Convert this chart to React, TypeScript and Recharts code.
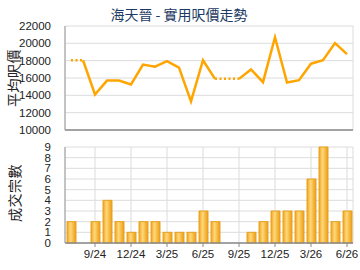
import { Bar, BarChart, CartesianGrid, Line, LineChart, XAxis, YAxis } from "recharts";

const months = [
  "7/24", "8/24", "9/24", "10/24", "11/24", "12/24",
  "1/25", "2/25", "3/25", "4/25", "5/25", "6/25",
  "7/25", "8/25", "9/25", "10/25", "11/25", "12/25",
  "1/26", "2/26", "3/26", "4/26", "5/26", "6/26",
];
// monthly average price per sq ft (months with no deal repeat the last price)
const price = [
  18050, 18050, 14100, 15700, 15700, 15250,
  17550, 17300, 17950, 17200, 13300, 18050,
  15900, 15900, 15900, 16980, 15520, 20700,
  15480, 15750, 17650, 18060, 20030, 18760,
];
const deals = [2, 0, 2, 4, 2, 1, 2, 2, 1, 1, 1, 3, 2, 0, 0, 1, 2, 3, 3, 3, 6, 9, 2, 3];
const xTicks = ["9/24", "12/24", "3/25", "6/25", "9/25", "12/25", "3/26", "6/26"];
const priceTicks = [10000, 12000, 14000, 16000, 18000, 20000, 22000];
const dealTicks = [0, 1, 2, 3, 4, 5, 6, 7, 8, 9];

// a segment is dotted when it runs into a month without deals
const n = months.length;
const rows = months.map((m, i) => {
  const solid = (i > 0 && deals[i] > 0) || (i + 1 < n && deals[i + 1] > 0);
  const dotted = (i > 0 && deals[i] === 0) || (i + 1 < n && deals[i + 1] === 0);
  return {
    month: m,
    solid: solid ? price[i] : null,
    dotted: dotted ? price[i] : null,
    deals: deals[i],
  };
});

const tickStyle = { fill: "#222", fontSize: 11.5, fontFamily: "Liberation Sans, Arial, sans-serif" };

function SideLabel({ text, cx, cy }: { text: string; cx: number; cy: number }) {
  return (
    <div
      style={{
        position: "absolute",
        left: cx - 35,
        top: cy - 8,
        width: 70,
        height: 16,
        lineHeight: "16px",
        textAlign: "center",
        fontSize: 14,
        letterSpacing: 0.5,
        color: "#222",
        fontFamily: "Noto Sans CJK TC, sans-serif",
        transform: "rotate(-90deg)",
        whiteSpace: "nowrap",
      }}
    >
      {text}
    </div>
  );
}

export default function App() {
  return (
    <div style={{ position: "absolute", left: 0, top: 0, width: 360, height: 270, background: "#fff", overflow: "hidden" }}>
      <div
        style={{
          position: "absolute",
          top: 4,
          left: 0,
          width: 358,
          textAlign: "center",
          fontSize: 14,
          lineHeight: "20px",
          color: "#1c3a63",
          fontFamily: "Noto Sans CJK TC, sans-serif",
        }}
      >
        海天晉 - 實用呎價走勢
      </div>
      <div style={{ position: "absolute", left: 0, top: 0 }}>
        <LineChart width={360} height={140} data={rows} margin={{ top: 26, right: 7, bottom: 0, left: 0 }}>
          <CartesianGrid stroke="#dcdcdc" />
          <XAxis
            dataKey="month"
            ticks={xTicks}
            interval={0}
            tick={false}
            tickLine={false}
            height={10}
            padding={{ left: 6, right: 6 }}
            axisLine={{ stroke: "#8a8a8a", strokeWidth: 1.5 }}
          />
          <YAxis
            domain={[10000, 22000]}
            ticks={priceTicks}
            interval={0}
            width={65}
            tickLine={false}
            tickMargin={8}
            tick={tickStyle}
            axisLine={{ stroke: "#9a9a9a" }}
          />
          <Line dataKey="dotted" stroke="#ffa500" strokeWidth={2.5} strokeDasharray="2 2.5" dot={false} isAnimationActive={false} />
          <Line dataKey="solid" stroke="#ffa500" strokeWidth={2.5} dot={false} isAnimationActive={false} />
        </LineChart>
      </div>
      <div style={{ position: "absolute", left: 0, top: 135 }}>
        <BarChart width={360} height={135} data={rows} margin={{ top: 12, right: 7, bottom: 0, left: 0 }}>
          <defs>
            <linearGradient id="barGrad" x1="0" y1="0" x2="1" y2="0">
              <stop offset="0%" stopColor="#f2a51f" />
              <stop offset="40%" stopColor="#ffd77a" />
              <stop offset="100%" stopColor="#eb9c12" />
            </linearGradient>
          </defs>
          <CartesianGrid stroke="#dcdcdc" />
          <XAxis
            dataKey="month"
            ticks={xTicks}
            interval={0}
            height={27}
            tick={tickStyle}
            tickSize={4}
            tickMargin={3}
            tickLine={{ stroke: "#8a8a8a" }}
            axisLine={{ stroke: "#8a8a8a", strokeWidth: 1.5 }}
          />
          <YAxis
            domain={[0, 9]}
            ticks={dealTicks}
            interval={0}
            width={65}
            tickLine={false}
            tickMargin={8}
            tick={tickStyle}
            axisLine={{ stroke: "#9a9a9a" }}
          />
          <Bar dataKey="deals" barSize={9} fill="url(#barGrad)" stroke="#e8a21e" strokeWidth={1} isAnimationActive={false} />
        </BarChart>
      </div>
      <SideLabel text="平均呎價" cx={13} cy={78} />
      <SideLabel text="成交宗數" cx={14} cy={193} />
    </div>
  );
}
